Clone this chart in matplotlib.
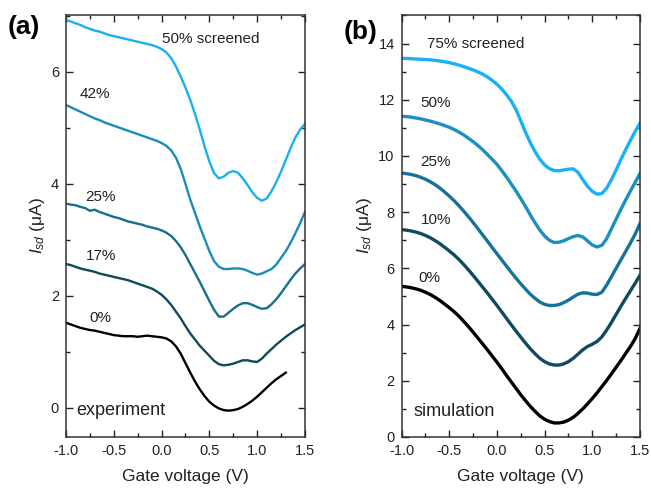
import numpy as np
import matplotlib
matplotlib.use("Agg")
import matplotlib.pyplot as plt
from matplotlib.ticker import MultipleLocator

plt.rcParams['font.family'] = ['Liberation Sans', 'DejaVu Sans']
plt.rcParams['mathtext.fontset'] = 'custom'
plt.rcParams['mathtext.rm'] = 'Liberation Sans'
plt.rcParams['mathtext.it'] = 'Liberation Sans:italic'
plt.rcParams['axes.unicode_minus'] = False

# gate voltage grid shared by all curves (V)
gate_v = np.round(np.arange(-1.0, 1.5001, 0.05), 2)

# (a) experiment, I_sd in uA
exp_0 = [1.52, 1.49, 1.46, 1.43, 1.41, 1.39, 1.38, 1.36, 1.34, 1.32,
         1.30, 1.29, 1.28, 1.28, 1.28, 1.27, 1.28, 1.29, 1.28, 1.27,
         1.26, 1.24, 1.19, 1.10, 0.97, 0.80, 0.63, 0.47, 0.33, 0.21,
         0.11, 0.04, -0.01, -0.04, -0.05, -0.04, -0.02, 0.02, 0.07, 0.13,
         0.20, 0.28, 0.36, 0.44, 0.51, 0.57, 0.63, np.nan, np.nan, np.nan,
         np.nan]
exp_17 = [2.57, 2.55, 2.52, 2.49, 2.47, 2.45, 2.43, 2.40, 2.38, 2.36,
          2.34, 2.32, 2.30, 2.28, 2.25, 2.22, 2.19, 2.16, 2.13, 2.08,
          2.02, 1.94, 1.84, 1.72, 1.60, 1.46, 1.33, 1.22, 1.11, 1.02,
          0.93, 0.84, 0.78, 0.76, 0.77, 0.79, 0.82, 0.85, 0.85, 0.83,
          0.82, 0.88, 0.97, 1.05, 1.13, 1.20, 1.27, 1.33, 1.39, 1.44,
          1.49]
exp_25 = [3.65, 3.63, 3.62, 3.59, 3.57, 3.52, 3.54, 3.50, 3.47, 3.44,
          3.41, 3.39, 3.36, 3.33, 3.31, 3.29, 3.27, 3.24, 3.22, 3.20,
          3.17, 3.13, 3.07, 2.98, 2.87, 2.73, 2.57, 2.41, 2.25, 2.08,
          1.91, 1.75, 1.63, 1.63, 1.70, 1.77, 1.83, 1.87, 1.87, 1.84,
          1.80, 1.77, 1.78, 1.85, 1.94, 2.05, 2.17, 2.29, 2.40, 2.49,
          2.57]
exp_42 = [5.41, 5.37, 5.33, 5.29, 5.25, 5.21, 5.17, 5.14, 5.10, 5.07,
          5.04, 5.01, 4.98, 4.95, 4.92, 4.89, 4.86, 4.83, 4.80, 4.77,
          4.73, 4.68, 4.60, 4.47, 4.27, 4.00, 3.72, 3.48, 3.24, 3.02,
          2.80, 2.62, 2.52, 2.48, 2.48, 2.49, 2.49, 2.48, 2.45, 2.41,
          2.38, 2.40, 2.44, 2.48, 2.56, 2.68, 2.80, 2.95, 3.12, 3.30,
          3.50]
exp_50 = [6.93, 6.90, 6.87, 6.84, 6.80, 6.77, 6.74, 6.72, 6.69, 6.66,
          6.64, 6.62, 6.60, 6.58, 6.56, 6.54, 6.52, 6.50, 6.48, 6.45,
          6.41, 6.35, 6.25, 6.10, 5.92, 5.72, 5.50, 5.25, 4.97, 4.67,
          4.40, 4.19, 4.10, 4.13, 4.20, 4.23, 4.20, 4.10, 3.98, 3.85,
          3.75, 3.70, 3.74, 3.87, 4.03, 4.22, 4.43, 4.64, 4.83, 4.97,
          5.07]

# (b) simulation, I_sd in uA
sim_0 = [5.36, 5.34, 5.31, 5.27, 5.22, 5.15, 5.07, 4.97, 4.86, 4.73,
         4.60, 4.46, 4.30, 4.12, 3.93, 3.73, 3.52, 3.31, 3.10, 2.88,
         2.66, 2.43, 2.19, 1.96, 1.73, 1.50, 1.29, 1.09, 0.91, 0.75,
         0.63, 0.55, 0.50, 0.50, 0.53, 0.60, 0.70, 0.84, 1.00, 1.18,
         1.37, 1.57, 1.79, 2.01, 2.24, 2.48, 2.72, 2.97, 3.22, 3.50,
         3.86]
sim_10 = [7.38, 7.36, 7.33, 7.29, 7.24, 7.17, 7.09, 6.99, 6.88, 6.75,
          6.62, 6.48, 6.32, 6.14, 5.95, 5.75, 5.54, 5.33, 5.12, 4.90,
          4.68, 4.45, 4.22, 3.99, 3.77, 3.55, 3.34, 3.14, 2.96, 2.80,
          2.68, 2.60, 2.56, 2.56, 2.60, 2.68, 2.80, 2.95, 3.10, 3.22,
          3.30, 3.40, 3.56, 3.80, 4.07, 4.36, 4.65, 4.93, 5.20, 5.47,
          5.75]
sim_25 = [9.39, 9.37, 9.34, 9.30, 9.24, 9.17, 9.08, 8.98, 8.86, 8.72,
          8.57, 8.41, 8.23, 8.04, 7.84, 7.63, 7.41, 7.19, 6.97, 6.74,
          6.52, 6.30, 6.08, 5.86, 5.65, 5.45, 5.26, 5.08, 4.93, 4.80,
          4.72, 4.68, 4.68, 4.71, 4.78, 4.87, 4.98, 5.08, 5.13, 5.12,
          5.08, 5.07, 5.15, 5.40, 5.70, 6.00, 6.30, 6.60, 6.90, 7.22,
          7.59]
sim_50 = [11.41, 11.40, 11.38, 11.35, 11.32, 11.28, 11.24, 11.19, 11.14, 11.08,
          11.02, 10.94, 10.85, 10.75, 10.63, 10.51, 10.37, 10.22, 10.05, 9.88,
          9.70, 9.48, 9.25, 9.00, 8.75, 8.48, 8.20, 7.90, 7.62, 7.36,
          7.15, 7.00, 6.92, 6.93, 6.98, 7.06, 7.13, 7.17, 7.12, 6.98,
          6.83, 6.76, 6.82, 7.05, 7.40, 7.75, 8.10, 8.43, 8.75, 9.06,
          9.37]
sim_75 = [13.47, 13.47, 13.46, 13.45, 13.44, 13.43, 13.42, 13.40, 13.38, 13.35,
          13.32, 13.28, 13.23, 13.18, 13.12, 13.06, 12.99, 12.91, 12.81, 12.69,
          12.55, 12.38, 12.18, 11.95, 11.65, 11.25, 10.84, 10.47, 10.15, 9.88,
          9.68, 9.55, 9.48, 9.47, 9.50, 9.53, 9.54, 9.42, 9.16, 8.92,
          8.74, 8.64, 8.66, 8.85, 9.15, 9.50, 9.87, 10.22, 10.55, 10.87,
          11.16]

exp_curves = [exp_0, exp_17, exp_25, exp_42, exp_50]
exp_colors = ['#000000', '#0f4a5a', '#16708c', '#1a8cba', '#19aff0']
exp_labels = ['0%', '17%', '25%', '42%', '50% screened']
exp_label_xy = [(-0.76, 1.61), (-0.79, 2.71), (-0.80, 3.77), (-0.86, 5.60), (0.0, 6.59)]

sim_curves = [sim_0, sim_10, sim_25, sim_50, sim_75]
sim_colors = ['#000000', '#0e4b60', '#157399', '#1a90bf', '#1ab0f5']
sim_labels = ['0%', '10%', '25%', '50%', '75% screened']
sim_label_xy = [(-0.82, 5.65), (-0.80, 7.71), (-0.80, 9.78), (-0.80, 11.87), (-0.73, 13.97)]

fig = plt.figure(figsize=(6.51, 4.92), dpi=100)
ax_a = fig.add_axes([0.1014, 0.1118, 0.367, 0.858])
ax_b = fig.add_axes([0.617, 0.1118, 0.366, 0.858])


def style_axes(ax, ymajor, yminor):
    ax.set_xlim(-1.0, 1.5)
    ax.xaxis.set_major_locator(MultipleLocator(0.5))
    ax.xaxis.set_minor_locator(MultipleLocator(0.25))
    ax.yaxis.set_major_locator(MultipleLocator(ymajor))
    ax.yaxis.set_minor_locator(MultipleLocator(yminor))
    ax.xaxis.set_major_formatter(matplotlib.ticker.FormatStrFormatter('%.1f'))
    ax.tick_params(which='both', direction='in', top=True, right=True,
                   labelsize=10.5, colors='#222222', width=1.0)
    ax.tick_params(which='major', length=5, pad=5)
    ax.tick_params(which='minor', length=3)
    for sp in ax.spines.values():
        sp.set_linewidth(1.1)
        sp.set_color('#333333')
    ax.set_xlabel('Gate voltage (V)', fontsize=12.5, labelpad=8, color='#222222')
    ax.set_ylabel(r'$I_{sd}$ (μA)', fontsize=12.5, labelpad=3, color='#222222')


for vals, col in zip(exp_curves, exp_colors):
    ax_a.plot(gate_v, vals, color=col, lw=1.7)
for lab, (tx, ty) in zip(exp_labels, exp_label_xy):
    ax_a.text(tx, ty, lab, fontsize=11, va='center', ha='left', color='#222222')
ax_a.text(-0.89, -0.05, 'experiment', fontsize=13, va='center', ha='left', color='#222222')
ax_a.set_ylim(-0.52, 7.02)
style_axes(ax_a, 2, 1)
ax_a.set_yticks([0, 2, 4, 6])

for vals, col in zip(sim_curves, sim_colors):
    ax_b.plot(gate_v, vals, color=col, lw=2.4)
for lab, (tx, ty) in zip(sim_labels, sim_label_xy):
    ax_b.text(tx, ty, lab, fontsize=11, va='center', ha='left', color='#222222')
ax_b.text(-0.88, 0.91, 'simulation', fontsize=13, va='center', ha='left', color='#222222')
ax_b.set_ylim(0, 15.02)
style_axes(ax_b, 2, 1)

fig.text(0.012, 0.945, '(a)', fontsize=19, fontweight='bold', va='center', ha='left')
fig.text(0.528, 0.935, '(b)', fontsize=19, fontweight='bold', va='center', ha='left')

fig.savefig('out.png', dpi=100)
